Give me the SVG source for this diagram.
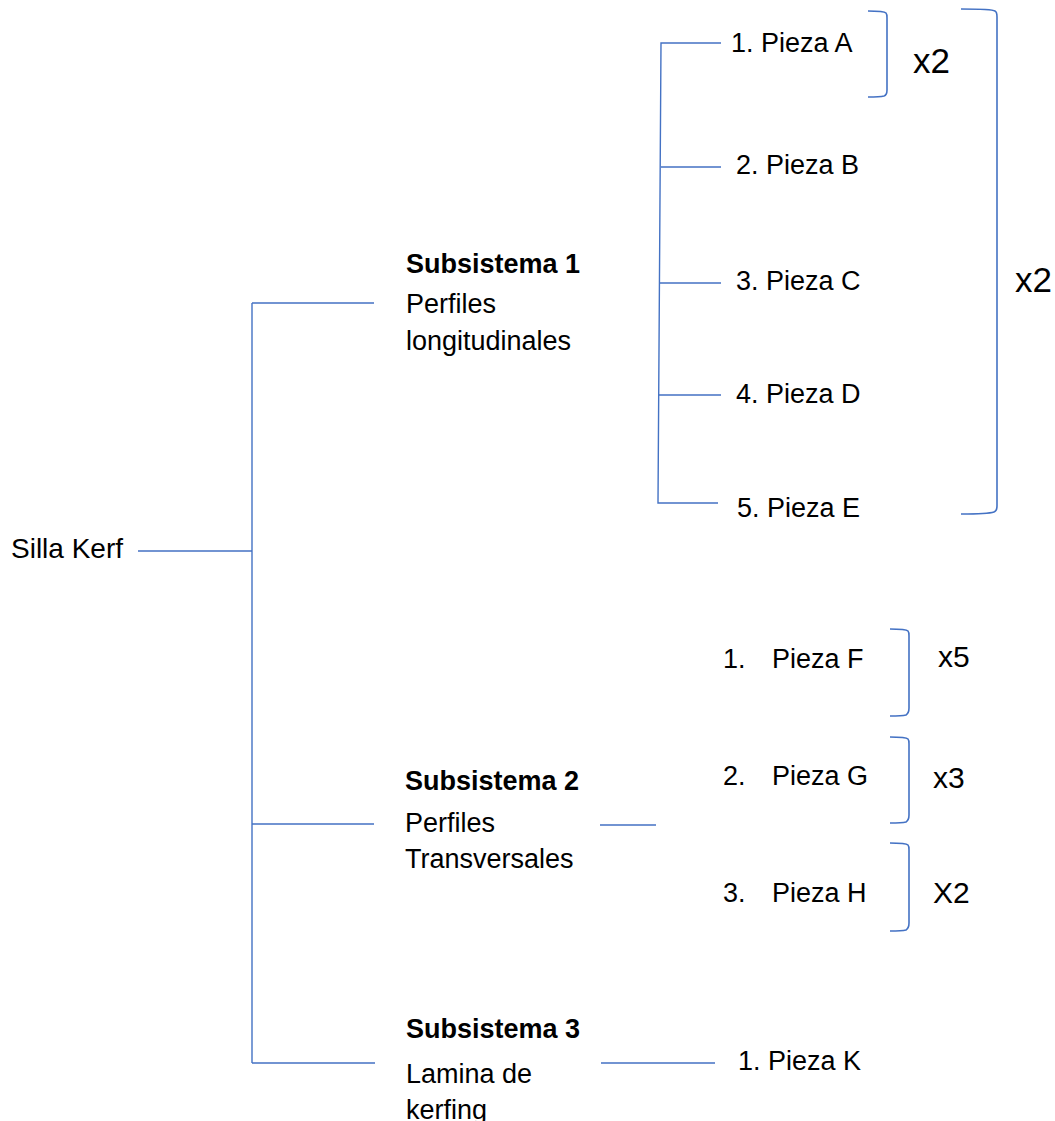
<svg xmlns="http://www.w3.org/2000/svg" width="1055" height="1121" viewBox="0 0 1055 1121">
<style>
text{font-family:"Liberation Sans",Arial,sans-serif;fill:#000;font-size:27px}
.b{font-weight:bold}
.root{font-size:28px}
.m{font-size:35px}
.q{font-size:30px}
.ln{stroke:#4472C4;stroke-width:1.4;fill:none}
.br{stroke:#4472C4;stroke-width:1.6;fill:none}
</style>
<rect width="1055" height="1121" fill="#fff"/>
<g id="connectors">
<path class="ln" d="M138 551H252M252 303V1063M252 303H374M252 824H374M252 1063H375"/>
<path class="ln" d="M721 43H661L658 503H718M661 167H721M660 283H721M659 395H721"/>
<path class="ln" d="M600 825H656M601 1063H715"/>
</g>
<g id="brackets">
<path class="br" d="M868 11Q884 11 886 13Q887 14 887 18V90Q887 95 884 96Q880 97 868 97"/>
<path class="br" d="M961 9Q992 9 995 11Q997 12 997 17V506Q997 511 994 512Q988 514 961 514"/>
<path class="br" d="M890 629Q906 629 908 631Q909 632 909 636V708Q909 713 906 715Q902 716 890 716"/>
<path class="br" d="M890 737Q906 737 908 739Q909 740 909 744V815Q909 820 906 822Q902 823 890 823"/>
<path class="br" d="M890 843Q906 843 908 845Q909 846 909 850V923Q909 928 906 930Q902 931 890 931"/>
</g>
<g id="silla-kerf"><text class="root" x="11" y="558">Silla Kerf</text></g>
<g id="subsistema-1">
<text class="b" x="406" y="273">Subsistema 1</text>
<text x="406" y="313">Perfiles</text>
<text x="406" y="350">longitudinales</text>
</g>
<g id="subsistema-2">
<text class="b" x="405" y="790">Subsistema 2</text>
<text x="405" y="832">Perfiles</text>
<text x="405" y="868">Transversales</text>
</g>
<g id="subsistema-3">
<text class="b" x="406" y="1038">Subsistema 3</text>
<text x="406" y="1083">Lamina de</text>
<text x="406" y="1119">kerfing</text>
</g>
<g id="pieza-a"><text x="731" y="52">1. Pieza A</text></g>
<g id="pieza-b"><text x="736" y="174">2. Pieza B</text></g>
<g id="pieza-c"><text x="736" y="290">3. Pieza C</text></g>
<g id="pieza-d"><text x="736" y="403">4. Pieza D</text></g>
<g id="pieza-e"><text x="737" y="517">5. Pieza E</text></g>
<g id="pieza-f"><text x="723" y="668">1.</text><text x="772" y="668">Pieza F</text></g>
<g id="pieza-g"><text x="723" y="785">2.</text><text x="772" y="785">Pieza G</text></g>
<g id="pieza-h"><text x="723" y="902">3.</text><text x="772" y="902">Pieza H</text></g>
<g id="pieza-k"><text x="738" y="1070">1. Pieza K</text></g>
<g id="multipliers">
<text class="m" x="913" y="73">x2</text>
<text class="m" x="1015" y="292">x2</text>
<text class="q" x="938" y="667">x5</text>
<text class="q" x="933" y="788">x3</text>
<text class="q" x="933" y="903">X2</text>
</g>
</svg>
